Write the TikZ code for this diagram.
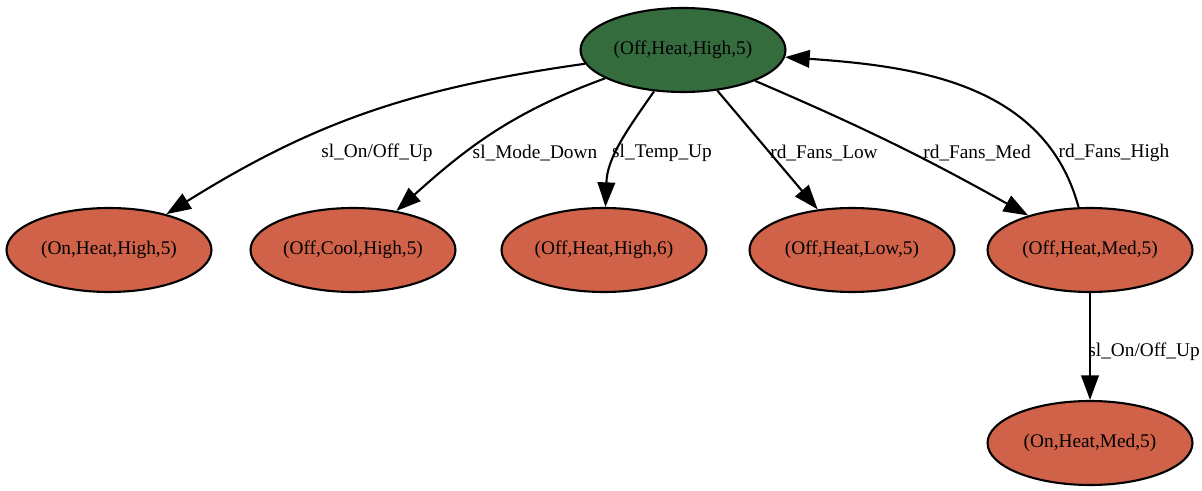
\documentclass[tikz,border=0pt]{standalone}
\usepackage{fontspec}
\setmainfont{Liberation Serif}
\usepackage{tikz}
\usetikzlibrary{arrows.meta,shapes.geometric}
\definecolor{stategreen}{RGB}{52,108,62}
\definecolor{stateorange}{RGB}{207,98,72}

\begin{document}
\begin{tikzpicture}[x=0.02cm, y=0.02cm, >={Triangle[length=14pt,width=10pt]},
    state/.style={ellipse, draw, line width=1.2pt, fill=stateorange, minimum width=4.1cm,
        minimum height=1.68cm, inner sep=0pt, font=\fontsize{11}{13}\selectfont},
    lbl/.style={font=\fontsize{11}{13}\selectfont, inner sep=1pt},
    edge/.style={->, line width=1.2pt}]
    \useasboundingbox (0,0) rectangle (1202,490);

    \node[state, fill=stategreen] (s0) at (683,440) {(Off,Heat,High,5)};
    \node[state] (s1) at (109,240) {(On,Heat,High,5)};
    \node[state] (s2) at (353,240) {(Off,Cool,High,5)};
    \node[state] (s3) at (604,240) {(Off,Heat,High,6)};
    \node[state] (s4) at (852,240) {(Off,Heat,Low,5)};
    \node[state] (s5) at (1090,240) {(Off,Heat,Med,5)};
    \node[state] (s6) at (1090,47) {(On,Heat,Med,5)};

    \node[lbl] (l1) at (377,337) {sl\_On/Off\_Up};
    \node[lbl] (l2) at (535,337) {sl\_Mode\_Down};
    \node[lbl] (l3) at (662,337) {sl\_Temp\_Up};
    \node[lbl] (l4) at (824,337) {rd\_Fans\_Low};
    \node[lbl] (l5) at (977,337) {rd\_Fans\_Med};
    \node[lbl] (l6) at (1114,337) {rd\_Fans\_High};
    \node[lbl] (l7) at (1144,138) {sl\_On/Off\_Up};

    \draw[edge] (s0) to[out=188, in=32] (s1);
    \draw[edge] (s0) to[out=200, in=42] (s2);
    \draw[edge] (s0) to[out=235, in=88] (s3);
    \draw[edge] (s0) -- (s4);
    \draw[edge] (s0) to[bend left=3] (s5);
    \draw[edge] (s5) to[out=105, in=-4] (s0);
    \draw[edge] (s5) -- (s6);
\end{tikzpicture}
\end{document}
